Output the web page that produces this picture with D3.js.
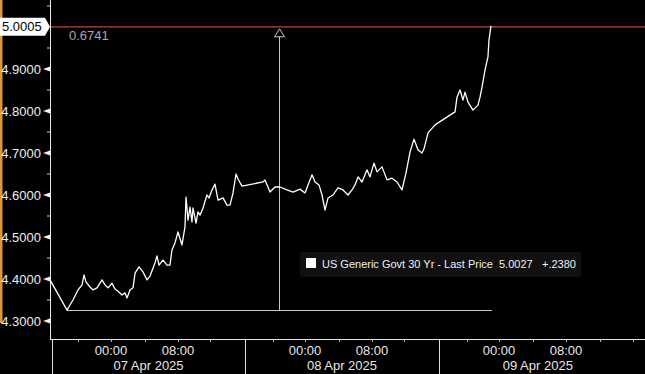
<!DOCTYPE html>
<html>
<head>
<meta charset="utf-8">
<script src="https://cdn.jsdelivr.net/npm/d3@7"></script>
<style>
  html, body { margin: 0; padding: 0; background: #000; }
  svg { display: block; }
  text { font-family: "Liberation Sans", Arial, sans-serif; }
</style>
</head>
<body>
<svg id="chart" width="645" height="374"></svg>
<script>
// ---- data (hours relative to 07 Apr 2025 00:00, yield %) ----
const times = [-7.28,-5.25,-4.90,-4.54,-3.94,-3.46,-3.22,-2.99,-2.51,-2.15,-1.67,-1.07,-0.72,-0.36,0.12,0.48,0.84,1.31,1.67,1.91,2.27,2.63,2.87,3.34,3.82,4.30,4.66,5.25,5.49,5.73,6.21,6.69,7.04,7.28,7.64,8.00,8.50,8.88,9.01,9.26,9.51,9.76,9.89,10.27,10.52,10.77,11.15,11.65,11.91,12.28,12.66,13.04,13.67,14.17,14.55,14.93,15.31,15.56,16.06,18.71,18.96,19.59,20.22,20.85,21.73,22.49,23.37,24.00,24.36,24.84,25.19,25.67,26.03,26.39,26.75,27.34,27.94,28.54,29.13,29.61,29.97,30.33,30.81,31.40,31.76,32.25,32.63,33.26,33.89,34.52,35.15,35.78,36.28,36.79,37.29,37.80,38.30,38.55,39.06,39.94,42.46,42.71,43.09,43.46,43.72,44.09,44.72,45.35,45.61,45.86,46.24,46.61,46.74,46.99];
const values = [4.398,4.326,4.338,4.350,4.374,4.386,4.410,4.393,4.381,4.374,4.379,4.398,4.386,4.379,4.390,4.376,4.371,4.362,4.367,4.355,4.374,4.379,4.414,4.429,4.417,4.398,4.407,4.438,4.455,4.433,4.445,4.433,4.433,4.469,4.486,4.512,4.481,4.524,4.595,4.540,4.571,4.536,4.569,4.533,4.560,4.552,4.569,4.600,4.593,4.612,4.626,4.588,4.593,4.576,4.576,4.605,4.650,4.638,4.621,4.631,4.636,4.607,4.619,4.619,4.612,4.607,4.614,4.605,4.624,4.648,4.631,4.624,4.600,4.564,4.593,4.600,4.617,4.612,4.600,4.612,4.624,4.643,4.631,4.660,4.643,4.676,4.655,4.667,4.636,4.640,4.631,4.612,4.652,4.702,4.733,4.707,4.700,4.710,4.748,4.767,4.798,4.833,4.850,4.826,4.845,4.821,4.802,4.814,4.833,4.857,4.898,4.929,4.969,5.0027];

const yTicks = [4.3, 4.4, 4.5, 4.6, 4.7, 4.8, 4.9];
const yMinorTicks = [4.35, 4.45, 4.55, 4.65, 4.75, 4.85, 4.95, 5.05];
const xTickHours = [0, 8, 24, 32, 48, 56];
const xTickLabels = ["00:00", "08:00", "00:00", "08:00", "00:00", "08:00"];
const xMinorHours = [-4, 4, 12, 20, 28, 36, 44, 52, 60, 64];
const daySeparators = [-7.04, 16.44, 40.44, 64.44];
const dayLabels = ["07 Apr 2025", "08 Apr 2025", "09 Apr 2025"];

const lastPriceLine = 5.0005;
const annotHigh = 5.0005;
const annotLow = 4.3264;
const annotTime = 20.72;
const annotLowStart = -5.25;
const annotLowEnd = 47.1;

const legendName = "US Generic Govt 30 Yr - Last Price";
const legendPrice = "5.0027";
const legendChange = "+.2380";

// ---- layout ----
const W = 645, H = 374;
const plotLeft = 50, plotRight = 645, axisY = 339;

const svg = d3.select("#chart");
svg.append("rect").attr("width", W).attr("height", H).attr("fill", "#000");

// piecewise time scale (Bloomberg-style compressed sessions)
const x = d3.scaleLinear()
  .domain([0, 8, 24, 32, 48, 56])
  .range([111, 178, 305, 372, 499, 566]);
const y = d3.scaleLinear().domain([4.3, 5.0]).range([321, 27]);

// orange left stripe
svg.append("rect").attr("x", 0).attr("y", 0).attr("width", 2.5).attr("height", 323).attr("fill", "#e8962a");

// y axis line
svg.append("line").attr("x1", plotLeft + 0.5).attr("x2", plotLeft + 0.5).attr("y1", 0).attr("y2", axisY)
  .attr("stroke", "#e8e8e8").attr("stroke-width", 1);

// y ticks (arrow heads) and labels
const yg = svg.append("g");
yTicks.forEach(v => {
  const py = y(v);
  yg.append("path").attr("d", `M${plotLeft},${py - 2.5} L${plotLeft - 7},${py} L${plotLeft},${py + 2.5} Z`).attr("fill", "#f0f0f0");
  yg.append("text").attr("x", 41).attr("y", py).attr("dy", "0.36em").attr("text-anchor", "end")
    .attr("font-size", 13).attr("fill", "#eeeeee").text(d3.format(".4f")(v));
});
yMinorTicks.forEach(v => {
  const py = y(v);
  yg.append("line").attr("x1", plotLeft - 3).attr("x2", plotLeft).attr("y1", py).attr("y2", py)
    .attr("stroke", "#cccccc").attr("stroke-width", 1);
});

// x axis line
svg.append("line").attr("x1", plotLeft).attr("x2", plotRight).attr("y1", axisY + 0.5).attr("y2", axisY + 0.5)
  .attr("stroke", "#e8e8e8").attr("stroke-width", 1);

// day separators (the closing one of the last day is off-chart in the reference)
daySeparators.slice(0, -1).forEach(h => {
  const px = Math.round(x(h)) + 0.5;
  svg.append("line").attr("x1", px).attr("x2", px).attr("y1", axisY).attr("y2", H)
    .attr("stroke", "#e0e0e0").attr("stroke-width", 1);
});

// x ticks
xTickHours.concat(xMinorHours).forEach(h => {
  const px = Math.round(x(h)) + 0.5;
  svg.append("line").attr("x1", px).attr("x2", px).attr("y1", axisY).attr("y2", axisY + 3)
    .attr("stroke", "#bbbbbb").attr("stroke-width", 1);
});
xTickHours.forEach((h, i) => {
  svg.append("text").attr("x", x(h)).attr("y", 355).attr("text-anchor", "middle")
    .attr("font-size", 13).attr("fill", "#e6e6e6").text(xTickLabels[i]);
});
dayLabels.forEach((lab, i) => {
  const cx = (x(daySeparators[i]) + x(daySeparators[i + 1])) / 2;
  svg.append("text").attr("x", cx).attr("y", 370).attr("text-anchor", "middle")
    .attr("font-size", 13).attr("fill", "#e6e6e6").text(lab);
});

// last price horizontal line
svg.append("line").attr("x1", plotLeft + 1).attr("x2", plotRight).attr("y1", y(lastPriceLine)).attr("y2", y(lastPriceLine))
  .attr("stroke", "#b8483e").attr("stroke-width", 1.2);

// annotation (high-low measure)
svg.append("line").attr("x1", x(annotLowStart)).attr("x2", x(annotLowEnd))
  .attr("y1", Math.round(y(annotLow)) + 0.5).attr("y2", Math.round(y(annotLow)) + 0.5)
  .attr("stroke", "#c8c8c8").attr("stroke-width", 1);
const ax = Math.round(x(annotTime)) + 0.5;
svg.append("line").attr("x1", ax).attr("x2", ax).attr("y1", y(annotLow)).attr("y2", y(annotHigh) + 10)
  .attr("stroke", "#c8c8c8").attr("stroke-width", 1);
svg.append("path").attr("d", `M${ax},${y(annotHigh) + 2} L${ax - 5},${y(annotHigh) + 10} L${ax + 5},${y(annotHigh) + 10} Z`)
  .attr("fill", "none").attr("stroke", "#c8c8c8").attr("stroke-width", 1);
svg.append("text").attr("x", 69).attr("y", 35).attr("dy", "0.36em").attr("font-size", 13).attr("fill", "#a8a8a8")
  .text(d3.format(".4f")(annotHigh - annotLow));

// price line
const line = d3.line().x((d, i) => x(times[i])).y(d => y(d));
svg.append("path").datum(values).attr("d", line).attr("fill", "none")
  .attr("stroke", "#ffffff").attr("stroke-width", 1.3).attr("stroke-linejoin", "round");

// last price label (white box with pointer)
const ly = y(lastPriceLine);
svg.append("path").attr("d", `M0,${ly - 9} L45,${ly - 9} L50,${ly} L45,${ly + 9} L0,${ly + 9} Z`).attr("fill", "#ffffff");
svg.append("text").attr("x", 2).attr("y", ly).attr("dy", "0.36em").attr("font-size", 13).attr("fill", "#000")
  .text(d3.format(".4f")(lastPriceLine));

// legend
const lg = svg.append("g");
lg.append("rect").attr("x", 300).attr("y", 252).attr("width", 281).attr("height", 25).attr("rx", 3)
  .attr("fill", "#111111");
lg.append("rect").attr("x", 306).attr("y", 258).attr("width", 10).attr("height", 10).attr("fill", "#ffffff");
lg.append("text").attr("x", 322).attr("y", 268).attr("font-size", 11).attr("fill", "#f0f0f0").text(legendName);
lg.append("text").attr("x", 499).attr("y", 268).attr("font-size", 11).attr("fill", "#f0f0f0").text(legendPrice);
lg.append("text").attr("x", 542).attr("y", 268).attr("font-size", 11).attr("fill", "#f0f0f0").text(legendChange);
</script>
</body>
</html>
